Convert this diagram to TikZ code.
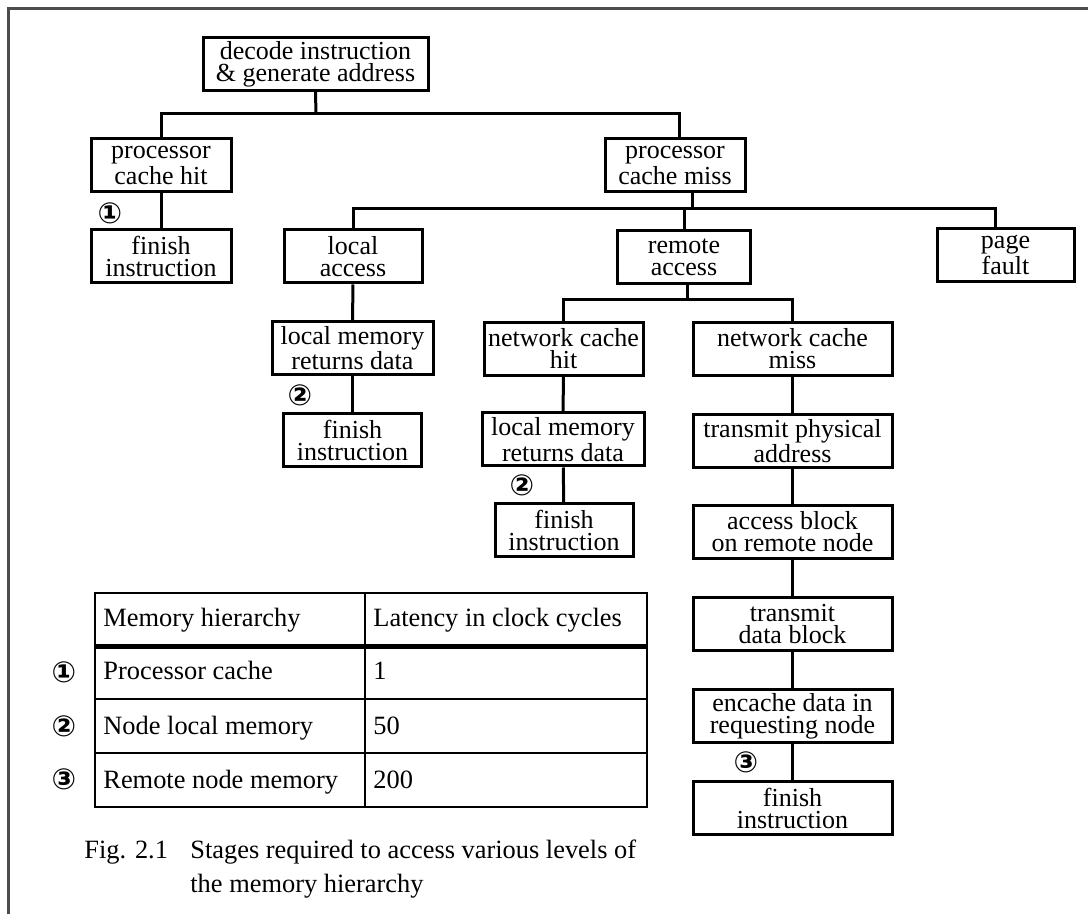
\documentclass[tikz,border=0pt]{standalone}
\usepackage{fontspec}
\setmainfont{Liberation Serif}
\newfontfamily\circfont{DejaVu Sans}
\newcommand\boxfont{\fontsize{13}{11}\selectfont}
\newcommand\tabfont{\fontsize{13.2}{15}\selectfont}
\begin{document}
\begin{tikzpicture}[x=0.5pt,y=-0.5pt,
  box/.style={draw, line width=1.5pt, inner sep=0pt, align=center, font=\boxfont, minimum height=26.5pt},
  conn/.style={line width=1.5pt},
  num/.style={font=\circfont\bfseries\fontsize{14.5}{15}\selectfont, inner sep=0pt},
  tline/.style={line width=1pt},
  ttext/.style={anchor=base west, inner sep=0pt, font=\tabfont},
  frame/.style={draw=black!70, line width=1.5pt}]
\useasboundingbox (0,0) rectangle (1088,914);
\draw[frame] (1088,8.5) -- (8.5,8.5) -- (8.5,914);

% nodes
\node[box, minimum width=112.5pt] (dec) at (315.5,64) {decode instruction\\\& generate address};
\node[box, minimum width=70pt] (pch) at (161,165.5) {processor\\cache hit};
\node[box, minimum width=70pt] (pcm) at (675,165.5) {processor\\cache miss};
\node[box, minimum width=70pt] (fin1) at (161,256.5) {finish\\instruction};
\node[box, minimum width=69pt] (la) at (353,256.5) {local\\access};
\node[box, minimum width=66.5pt] (ra) at (684,257) {remote\\access};
\node[box, minimum width=68.5pt] (pf) at (1005.5,255) {page\\fault};
\node[box, minimum width=80.5pt] (lm1) at (352.5,348) {local memory\\returns data};
\node[box, minimum width=69pt] (fin2) at (352.5,440) {finish\\instruction};
\node[box, minimum width=79.5pt] (nch) at (563.5,349) {network cache\\hit};
\node[box, minimum width=99.5pt] (ncm) at (792.5,349) {network cache\\miss};
\node[box, minimum width=81pt] (lm2) at (563,439.5) {local memory\\returns data};
\node[box, minimum width=69pt] (fin3) at (564,530.5) {finish\\instruction};
\node[box, minimum width=99.5pt] (tpa) at (792.5,441) {transmit physical\\address};
\node[box, minimum width=99.5pt] (abr) at (792.5,532) {access block\\on remote node};
\node[box, minimum width=99.5pt] (tdb) at (792.5,624) {transmit\\data block};
\node[box, minimum width=99.5pt] (enc) at (792.5,716) {encache data in\\requesting node};
\node[box, minimum width=99.5pt] (fin4) at (792.5,808) {finish\\instruction};

% connectors
\coordinate (b1) at (316,114);
\coordinate (b2) at (692,209);
\coordinate (b3) at (687,300);
\draw[conn] (dec.south) -- (b1);
\draw[conn] (pch.north) |- (b1) -| ([xshift=2pt]pcm.north);
\draw[conn] (b2) -- (b2 |- pcm.south);
\draw[conn] (la.north) |- (b2) -| ([xshift=-5pt]pf.north);
\draw[conn] (ra.north) -- (ra.north |- b2);
\draw[conn] (b3 |- ra.south) -- (b3);
\draw[conn] (nch.north) |- (b3) -| (ncm.north);
\draw[conn] (pch) -- (fin1);
\draw[conn] (la) -- (lm1);
\draw[conn] (lm1) -- (fin2);
\draw[conn] (nch) -- (lm2);
\draw[conn] (lm2) -- (fin3);
\draw[conn] (ncm) -- (tpa);
\draw[conn] (tpa) -- (abr);
\draw[conn] (abr) -- (tdb);
\draw[conn] (tdb) -- (enc);
\draw[conn] (enc) -- (fin4);

% latency markers
\node[num] (m1) at (110,213) {①};
\node[num] (m2a) at (300,395) {②};
\node[num] (m2b) at (522,485) {②};
\node[num] (m3) at (746,762) {③};

% table
\draw[tline] (95,593) rectangle (647,807);
\draw[tline] (365,593) -- (365,807);
\draw[line width=2.5pt] (95,646.5) -- (647,646.5);
\draw[tline] (95,699) -- (647,699);
\draw[tline] (95,753) -- (647,753);
\node[ttext] (h1) at (103,627) {Memory hierarchy};
\node[ttext] (h2) at (373,627) {Latency in clock cycles};
\node[ttext] (r1a) at (103,680) {Processor cache};
\node[ttext] (r1b) at (373,680) {1};
\node[ttext] (r2a) at (103,734) {Node local memory};
\node[ttext] (r2b) at (373,734) {50};
\node[ttext] (r3a) at (103,788) {Remote node memory};
\node[ttext] (r3b) at (373,788) {200};
\node[num] (t1) at (64,672) {①};
\node[num] (t2) at (64,726) {②};
\node[num] (t3) at (64,779) {③};

% caption
\node[ttext] (cap1) at (84,858) {Fig. 2.1};
\node[ttext] (cap2) at (190,858) {Stages required to access various levels of};
\node[ttext] (cap3) at (190,892) {the memory hierarchy};
\end{tikzpicture}
\end{document}
